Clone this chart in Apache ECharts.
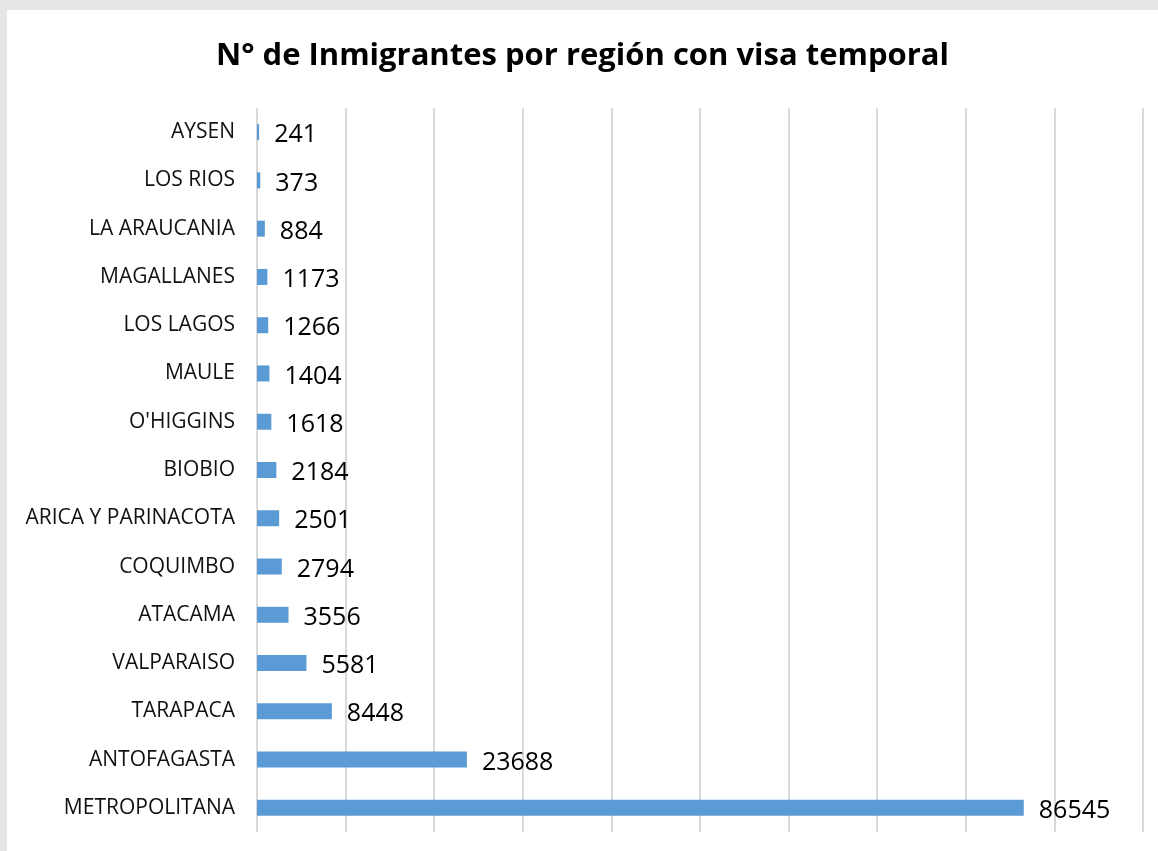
<!DOCTYPE html>
<html>
<head>
<meta charset="utf-8">
<script src="https://cdn.jsdelivr.net/npm/echarts@6/dist/echarts.min.js"></script>
<style>
  html, body { margin: 0; padding: 0; background: #e6e6e6; }
  #chart { position: absolute; left: 7px; top: 10px; width: 1151px; height: 841px; background: #fff; }
</style>
</head>
<body>
<div id="chart"></div>
<script>
// regiones de abajo hacia arriba
const regions = ['METROPOLITANA', 'ANTOFAGASTA', 'TARAPACA', 'VALPARAISO', 'ATACAMA', 'COQUIMBO',
  'ARICA Y PARINACOTA', 'BIOBIO', "O'HIGGINS", 'MAULE', 'LOS LAGOS', 'MAGALLANES', 'LA ARAUCANIA',
  'LOS RIOS', 'AYSEN']
const inmigrantes = [86545, 23688, 8448, 5581, 3556, 2794, 2501, 2184, 1618, 1404, 1266, 1173, 884, 373, 241]

const chart = echarts.init(document.getElementById('chart'))
chart.setOption({
  animation: false,
  textStyle: { fontFamily: 'Open Sans' },
  title: {
    text: 'N° de Inmigrantes por región con visa temporal',
    left: 'center',
    top: 26,
    textStyle: { fontSize: 31, fontWeight: 'bold', color: '#000', fontFamily: 'Open Sans' }
  },
  grid: {
    left: 250,
    right: 15,
    top: 98,
    bottom: 19
  },
  xAxis: {
    type: 'value',
    min: 0,
    max: 100000,
    interval: 10000,
    axisLabel: { show: false },
    axisLine: { show: false },
    axisTick: { show: false },
    splitLine: { show: true, lineStyle: { color: '#d9d9d9', width: 2 } }
  },
  yAxis: {
    type: 'category',
    data: regions,
    axisLine: { show: false },
    axisTick: { show: false },
    axisLabel: { color: '#111', fontSize: 21, margin: 22, padding: [3, 0, 0, 0] }
  },
  series: [{
    type: 'bar',
    data: inmigrantes,
    barWidth: 16,
    itemStyle: { color: '#5b9bd5' },
    label: {
      show: true,
      position: 'right',
      distance: 15,
      offset: [0, 3],
      color: '#000',
      fontSize: 25
    }
  }]
})
</script>
</body>
</html>
